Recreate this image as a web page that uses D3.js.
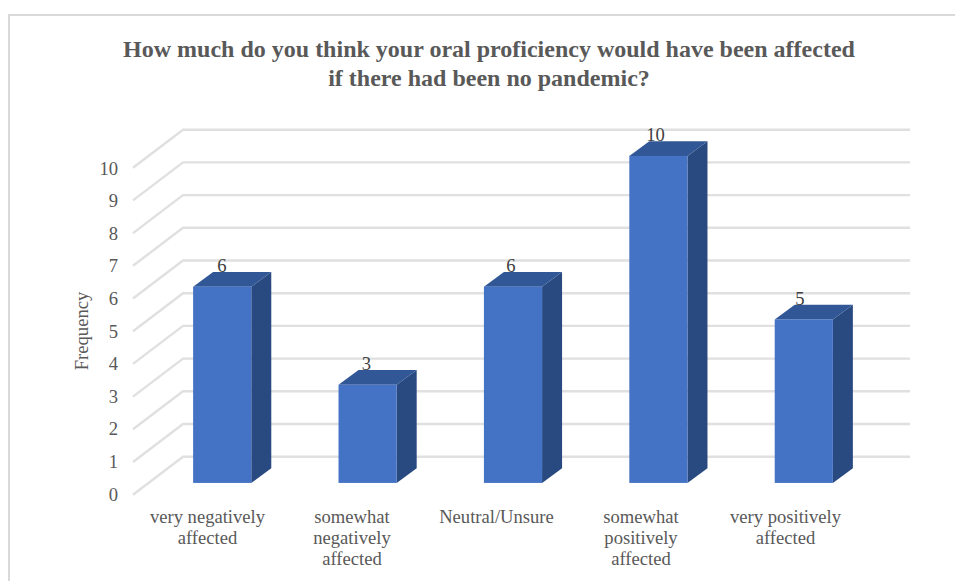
<!DOCTYPE html>
<html><head><meta charset="utf-8">
<script src="https://cdn.jsdelivr.net/npm/d3@7"></script>
<style>html,body{margin:0;padding:0;background:#fff}svg{display:block}text{font-family:"Liberation Serif",serif}</style>
</head><body><svg id="c" width="955" height="581"></svg>
<script>
const categories=[["very negatively","affected"],["somewhat","negatively","affected"],["Neutral/Unsure"],["somewhat","positively","affected"],["very positively","affected"]];
const values=[6,3,6,10,5];
const yTicks=[0,1,2,3,4,5,6,7,8,9,10];
const titleLines=["How much do you think your oral proficiency would have been affected","if there had been no pandemic?"];
const yTitle="Frequency";

const svg=d3.select("#c");
svg.append("rect").attr("x",9).attr("y",15).attr("width",960).attr("height",580).attr("fill","#fff").attr("stroke","#d9d9d9").attr("stroke-width",2);

const y=d3.scaleLinear().domain([0,10]).range([456.7,129.7]);
const wallL=183,wallR=910,floorDx=-50,floorDy=38;
const barT=0.69, depthDx=20, depthDy=-14.7;
const idx=categories.map((d,i)=>i);
const band=d3.scaleBand().domain(idx).range([wallL+floorDx*barT+1,wallR+floorDx*barT+1]).paddingInner(0.6).paddingOuter(0.3);
const labelX=d3.scaleBand().domain(idx).range([135.25,857.75]);
const labelC=i=>labelX(i)+labelX.bandwidth()/2;

const grid=svg.append("g").attr("fill","none").attr("stroke","#e0e0e0").attr("stroke-width",2.4);
grid.selectAll("path").data(yTicks).join("path")
  .attr("d",v=>`M${wallL+floorDx},${y(v)+floorDy}L${wallL},${y(v)}H${wallR}`);

const bars=svg.append("g").selectAll("g").data(values).join("g");
const fx=(d,i)=>band(i), bw=band.bandwidth();
const base=y(0)+floorDy*barT, h=v=>y(0)-y(v);
bars.append("path").attr("fill","#294a80")
  .attr("d",(d,i)=>`M${fx(d,i)+bw},${base-h(d)}l${depthDx},${depthDy}V${base+depthDy}l${-depthDx},${-depthDy}Z`);
bars.append("path").attr("fill","#315796")
  .attr("d",(d,i)=>`M${fx(d,i)},${base-h(d)}l${depthDx},${depthDy}h${bw}l${-depthDx},${-depthDy}Z`);
bars.append("rect").attr("fill","#4472c4")
  .attr("x",fx).attr("width",bw).attr("y",d=>base-h(d)).attr("height",h);
bars.append("text").attr("text-anchor","middle").attr("font-size",18.6).attr("fill","#404040")
  .attr("x",(d,i)=>labelC(i)+14.5).attr("y",d=>base-h(d)+depthDy)
  .text(d=>d);

const yAxisScale=d3.scaleLinear().domain([0,10]).range([y(0)+floorDy-0.5,y(10)+floorDy+0.5]);
const ax=svg.append("g").attr("transform","translate(118,0)")
  .call(d3.axisLeft(yAxisScale).tickValues(yTicks).tickFormat(d3.format("d")).tickSize(0).tickPadding(0));
ax.select(".domain").remove();
ax.selectAll("text").attr("font-size",18.6).attr("fill","#595959").attr("font-family","Liberation Serif");

const cat=svg.append("g").attr("text-anchor","middle").attr("font-size",18.6).attr("fill","#595959");
cat.selectAll("text").data(categories).join("text")
  .attr("x",(d,i)=>labelC(i)).attr("y",523)
  .selectAll("tspan").data(d=>d).join("tspan")
  .attr("x",function(){return d3.select(this.parentNode).attr("x")})
  .attr("y",(d,i)=>523+i*21).text(d=>d);

svg.append("text").attr("transform","translate(88,331) rotate(-90)").attr("text-anchor","middle")
  .attr("font-size",18.6).attr("fill","#595959").text(yTitle);

svg.append("g").attr("text-anchor","middle").attr("font-size",24).attr("font-weight","bold").attr("fill","#595959")
  .selectAll("text").data(titleLines).join("text")
  .attr("x",489).attr("y",(d,i)=>57+i*29).text(d=>d);
</script></body></html>
